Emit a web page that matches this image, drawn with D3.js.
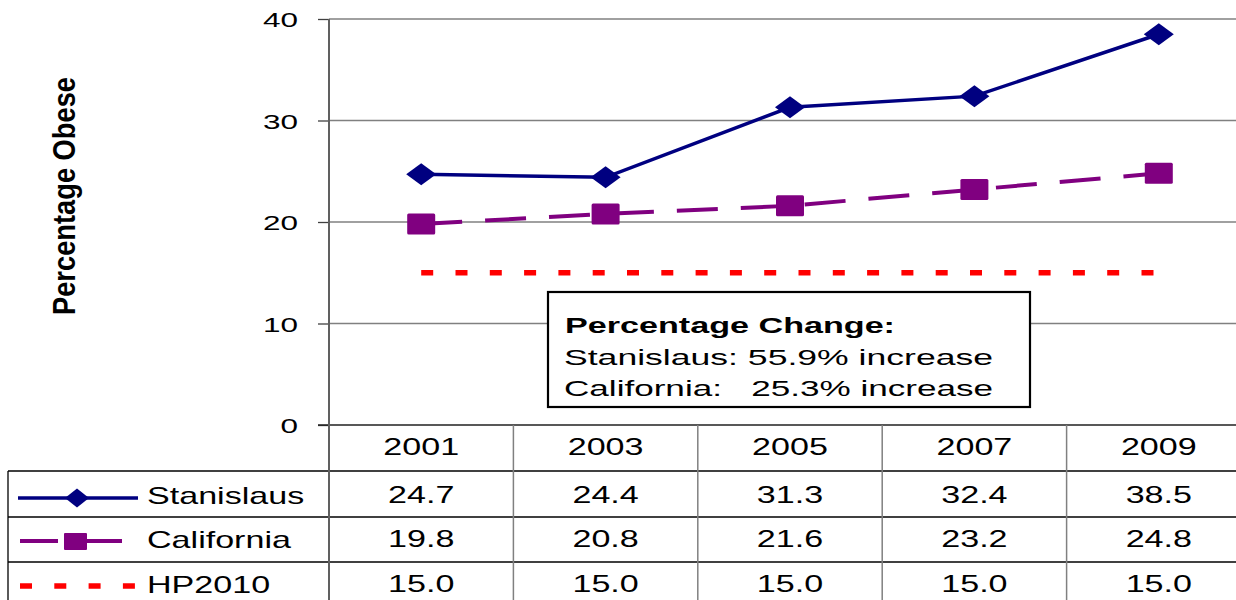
<!DOCTYPE html>
<html>
<head>
<meta charset="utf-8">
<script src="https://cdn.jsdelivr.net/npm/d3@7"></script>
<style>
  html, body { margin: 0; padding: 0; background: #fff; }
  svg { display: block; }
  text { font-family: "Liberation Sans", Arial, sans-serif; white-space: pre; }
</style>
</head>
<body>
<svg id="chart" width="1236" height="600"></svg>
<script>
// ---- data ----
const years = ["2001", "2003", "2005", "2007", "2009"];
const stanislaus = [24.7, 24.4, 31.3, 32.4, 38.5];
const california = [19.8, 20.8, 21.6, 23.2, 24.8];
const hp2010 = [15.0, 15.0, 15.0, 15.0, 15.0];
const seriesNames = ["Stanislaus", "California", "HP2010"];
const yTicks = [0, 10, 20, 30, 40];
const yLabel = "Percentage Obese";
const noteTitle = "Percentage Change:";
const noteLines = ["Stanislaus: 55.9% increase", "California:   25.3% increase"];

// ---- layout ----
const svg = d3.select("#chart");
const W = 1236, H = 600;
const plotL = 329, plotT = 19, plotB = 425;
const colW = 184.4;
const rowLines = [471, 517, 562];
const tableLeft = 8;

const x = d3.scaleBand().domain(years).range([plotL, plotL + colW * years.length]).padding(0);
const y = d3.scaleLinear().domain([0, 40]).range([plotB, plotT]);
const cx = d => x(d) + x.bandwidth() / 2;

// gridlines
svg.append("g")
  .selectAll("line").data(yTicks.filter(t => t > 0)).join("line")
  .attr("x1", plotL).attr("x2", W)
  .attr("y1", d => y(d)).attr("y2", d => y(d))
  .attr("stroke", "#808080").attr("stroke-width", 1.5);

// y axis with ticks
const yAxis = d3.axisLeft(y).tickValues(yTicks).tickSize(11).tickPadding(0).tickFormat(d3.format("d"));
const ag = svg.append("g").attr("transform", `translate(${plotL},0)`).call(yAxis);
ag.select(".domain").remove();
ag.selectAll(".tick line").attr("stroke", "#404040").attr("stroke-width", 1.3);
ag.selectAll(".tick text")
  .attr("x", null).attr("dy", null)
  .attr("font-size", 21).attr("fill", "#000")
  .attr("font-family", "Liberation Sans, Arial, sans-serif")
  .attr("text-anchor", "end")
  .attr("transform", "translate(-31,7.5) scale(1.5,1)");

// y axis label
svg.append("text")
  .attr("transform", "translate(75,196) rotate(-90)")
  .attr("text-anchor", "middle")
  .attr("font-size", 32).attr("font-weight", "bold")
  .attr("textLength", 238).attr("lengthAdjust", "spacingAndGlyphs")
  .text(yLabel);

// ---- table lines ----
const tg = svg.append("g");
tg.append("line").attr("x1", 318).attr("x2", W).attr("y1", plotB).attr("y2", plotB)
  .attr("stroke", "#202020").attr("stroke-width", 1.5);
rowLines.forEach(ry => {
  tg.append("line").attr("x1", tableLeft).attr("x2", W).attr("y1", ry).attr("y2", ry)
    .attr("stroke", "#000").attr("stroke-width", 1.3);
});
tg.append("line").attr("x1", tableLeft).attr("x2", tableLeft).attr("y1", rowLines[0]).attr("y2", H)
  .attr("stroke", "#000").attr("stroke-width", 1.3);
years.slice(1).forEach(yr => {
  tg.append("line").attr("x1", x(yr)).attr("x2", x(yr)).attr("y1", plotB).attr("y2", H)
    .attr("stroke", "#808080").attr("stroke-width", 1.5);
});
// left axis line
svg.append("line").attr("x1", plotL).attr("x2", plotL).attr("y1", plotT).attr("y2", H)
  .attr("stroke", "#606060").attr("stroke-width", 2);

// ---- series ----
const line = d3.line().x((d, i) => cx(years[i])).y(d => y(d));

svg.append("path").datum(hp2010).attr("d", line)
  .attr("fill", "none").attr("stroke", "#FF0000").attr("stroke-width", 5.5)
  .attr("stroke-dasharray", "12,22.3");

svg.append("path").datum(california).attr("d", line)
  .attr("fill", "none").attr("stroke", "#800080").attr("stroke-width", 4)
  .attr("stroke-dasharray", "41,23");

svg.append("path").datum(stanislaus).attr("d", line)
  .attr("fill", "none").attr("stroke", "#000080").attr("stroke-width", 3.5);

const diamond = (w, h) => `M0,${-h/2}L${w/2},0L0,${h/2}L${-w/2},0Z`;

svg.append("g").selectAll("rect").data(california).join("rect")
  .attr("x", (d, i) => cx(years[i]) - 14).attr("y", d => y(d) - 10.5)
  .attr("width", 28).attr("height", 21).attr("rx", 1.5)
  .attr("fill", "#800080");

svg.append("g").selectAll("path").data(stanislaus).join("path")
  .attr("transform", (d, i) => `translate(${cx(years[i])},${y(d)})`)
  .attr("d", diamond(30, 22))
  .attr("fill", "#000080");

// ---- annotation box ----
svg.append("rect").attr("x", 548).attr("y", 292).attr("width", 482).attr("height", 115)
  .attr("fill", "#fff").attr("stroke", "#000").attr("stroke-width", 2.2);
svg.append("text").attr("x", 565).attr("y", 333)
  .attr("font-size", 22).attr("font-weight", "bold")
  .attr("textLength", 330).attr("lengthAdjust", "spacingAndGlyphs")
  .text(noteTitle);
noteLines.forEach((t, i) => {
  svg.append("text").attr("x", 564).attr("y", 365 + i * 30.5)
    .attr("font-size", 22)
    .attr("textLength", 429).attr("lengthAdjust", "spacingAndGlyphs")
    .text(t);
});

// ---- table text ----
const sx = 1.42;
function stext(str, tx, ty, anchor) {
  svg.append("text")
    .attr("transform", `translate(${tx},${ty}) scale(${sx},1)`)
    .attr("text-anchor", anchor)
    .attr("font-size", 24)
    .text(str);
}
years.forEach(yr => stext(yr, cx(yr), 455, "middle"));
const rowsData = [stanislaus, california, hp2010];
const rowBase = [503, 547, 592];
rowsData.forEach((arr, r) => {
  arr.forEach((v, i) => stext(d3.format(".1f")(v), cx(years[i]), rowBase[r], "middle"));
  stext(seriesNames[r], 147, rowBase[r] + 1, "start");
});

// ---- legend keys ----
const lg = svg.append("g");
lg.append("line").attr("x1", 18).attr("x2", 138).attr("y1", 498).attr("y2", 498)
  .attr("stroke", "#000080").attr("stroke-width", 3.5);
lg.append("path").attr("transform", "translate(77,498)").attr("d", diamond(24, 19)).attr("fill", "#000080");

lg.append("line").attr("x1", 20).attr("x2", 58).attr("y1", 541).attr("y2", 541)
  .attr("stroke", "#800080").attr("stroke-width", 4);
lg.append("line").attr("x1", 87).attr("x2", 122).attr("y1", 541).attr("y2", 541)
  .attr("stroke", "#800080").attr("stroke-width", 4);
lg.append("rect").attr("x", 64).attr("y", 533).attr("width", 23).attr("height", 17).attr("rx", 1)
  .attr("fill", "#800080");

lg.append("line").attr("x1", 20).attr("x2", 135).attr("y1", 586).attr("y2", 586)
  .attr("stroke", "#FF0000").attr("stroke-width", 5.5).attr("stroke-dasharray", "12,22.3");
</script>
</body>
</html>
